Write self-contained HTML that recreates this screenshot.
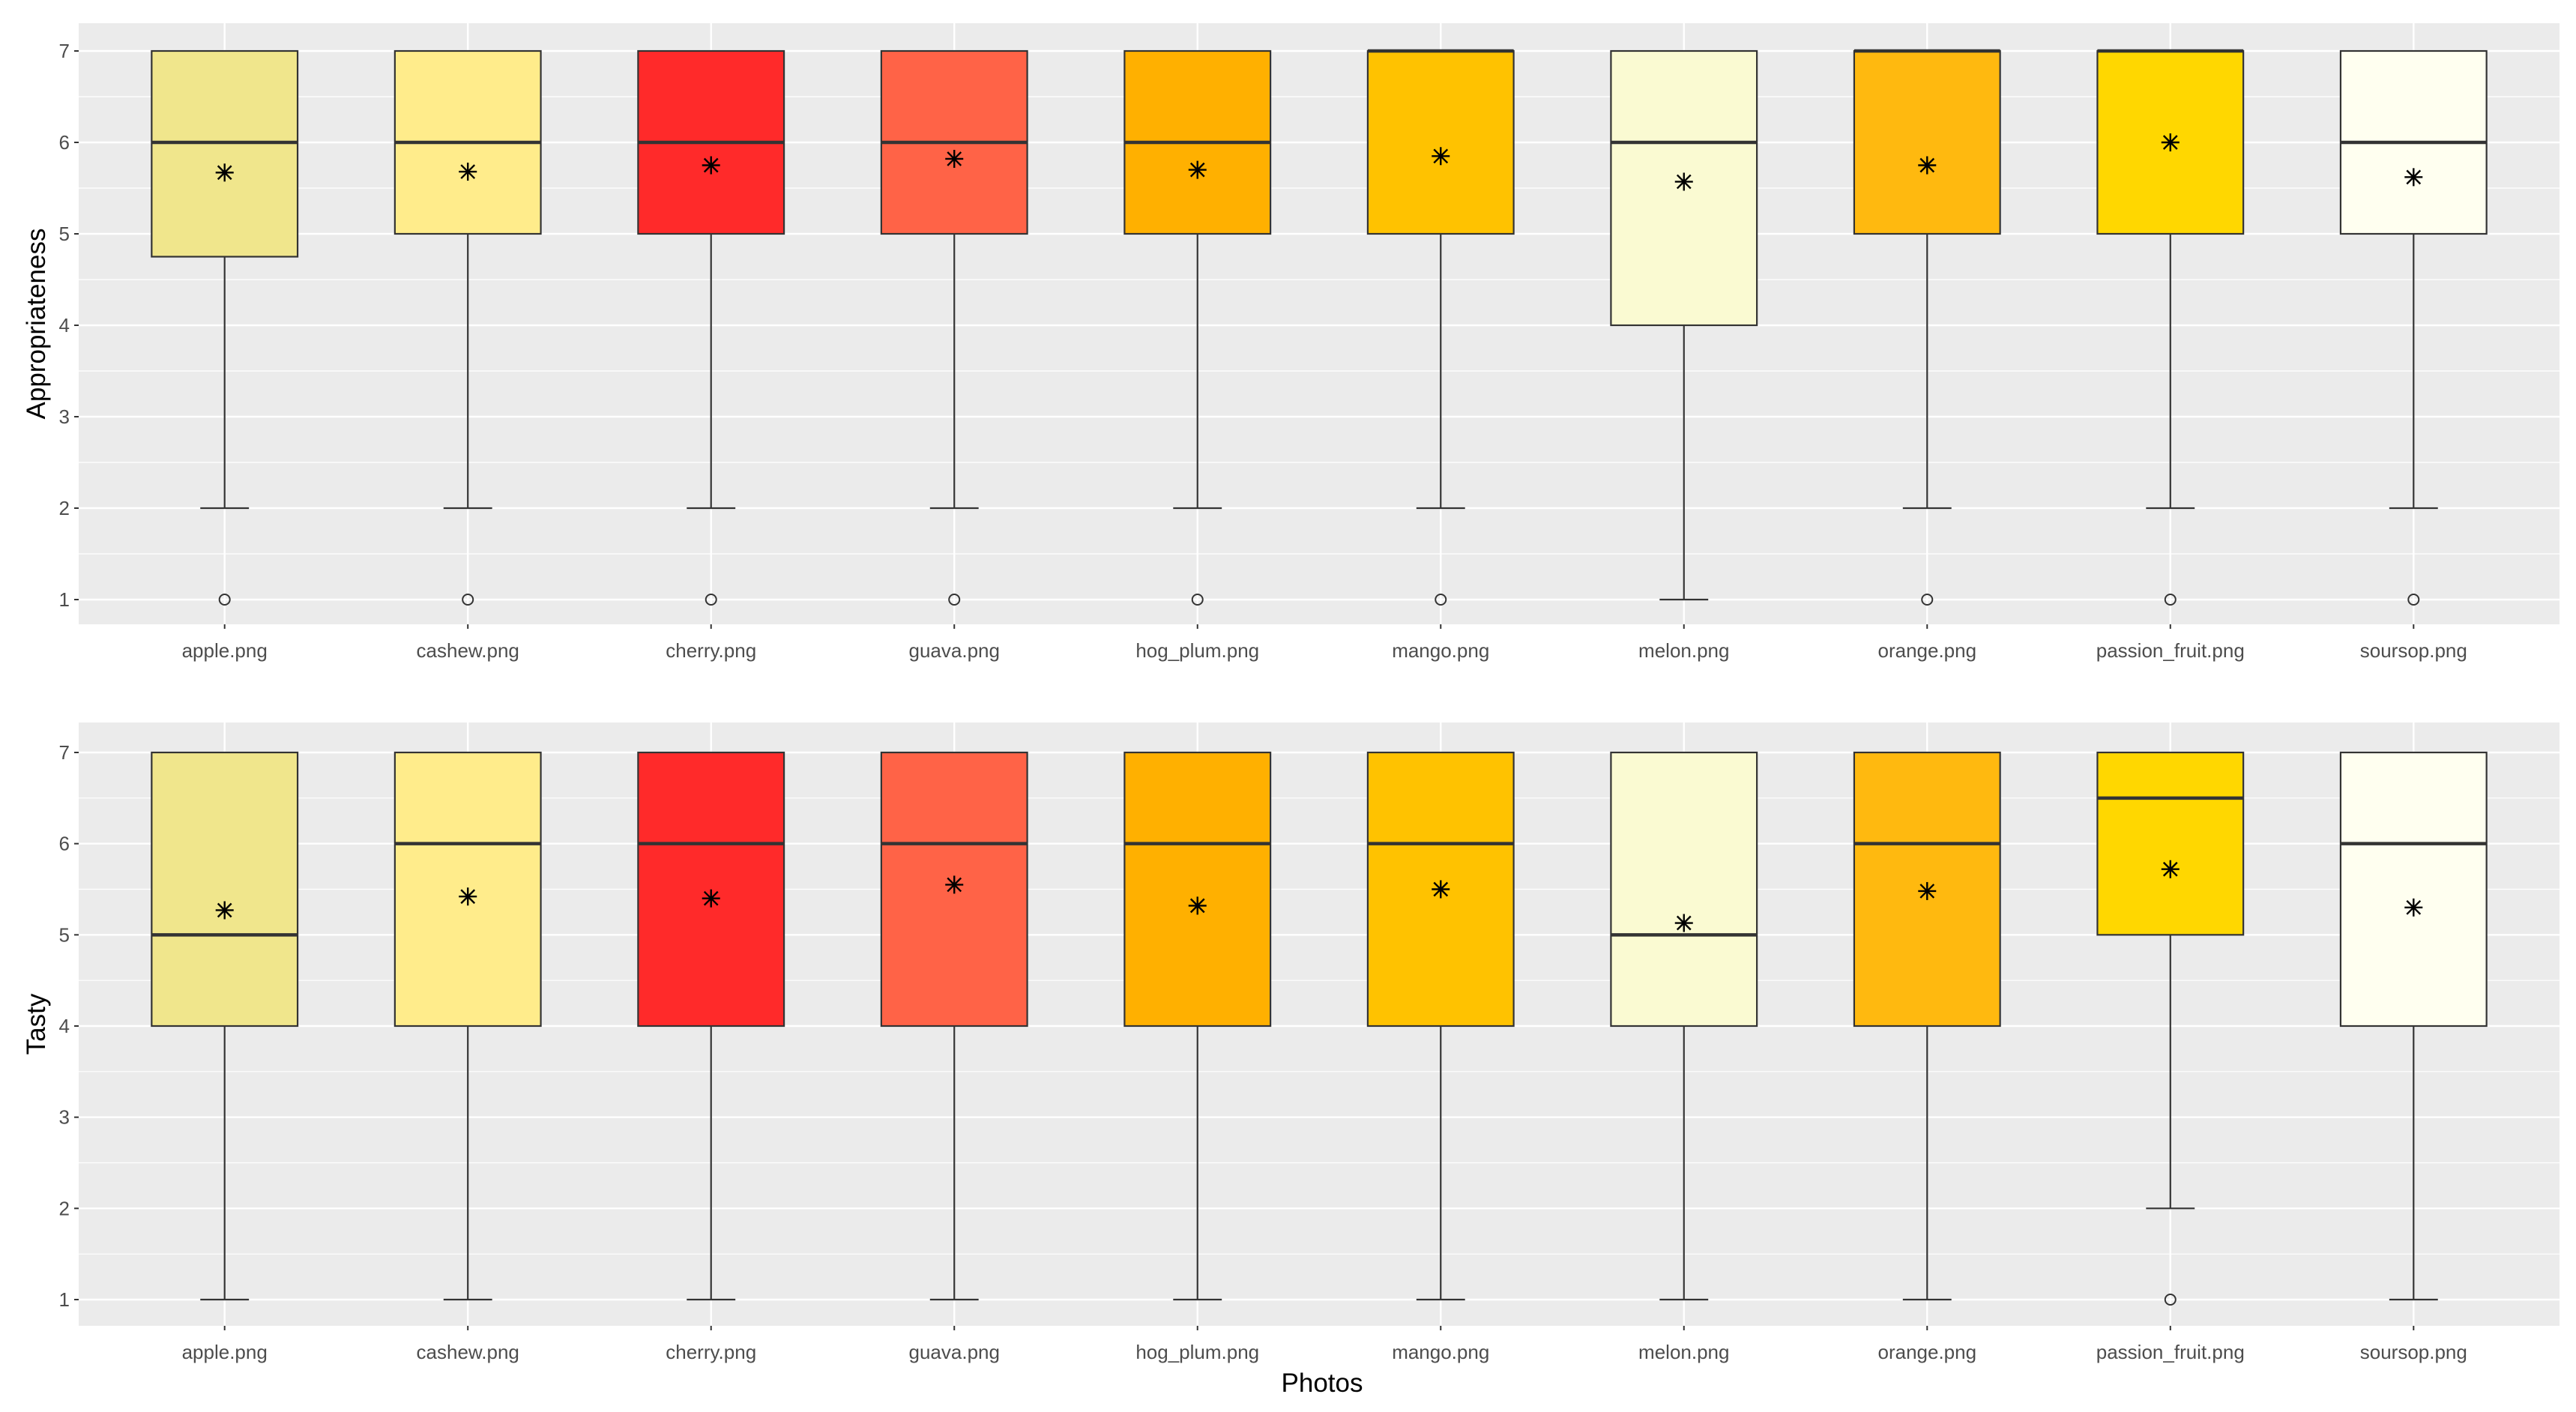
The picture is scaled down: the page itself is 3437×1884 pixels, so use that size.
<!DOCTYPE html>
<html><head><meta charset="utf-8"><style>
html,body{margin:0;padding:0;background:#fff}
svg{display:block}
text{font-family:"Liberation Sans",sans-serif}
</style></head><body>
<svg id="chart" width="3437" height="1884" viewBox="0 0 3437 1884" xmlns="http://www.w3.org/2000/svg"></svg>
<script>
const categories = ["apple.png","cashew.png","cherry.png","guava.png","hog_plum.png","mango.png","melon.png","orange.png","passion_fruit.png","soursop.png"];
const colors = ["#F0E68C","#FFEC8B","#FF2A2A","#FF6347","#FFB000","#FFC200","#FAFAD2","#FFB90F","#FFD700","#FFFFF0"];
// Appropriateness
const apLow = [2,2,2,2,2,2,1,2,2,2];
const apQ1 = [4.75,5,5,5,5,5,4,5,5,5];
const apMed = [6,6,6,6,6,7,6,7,7,6];
const apQ3 = [7,7,7,7,7,7,7,7,7,7];
const apHigh = [7,7,7,7,7,7,7,7,7,7];
const apMean = [5.67,5.68,5.75,5.82,5.70,5.85,5.57,5.75,6.0,5.62];
const apOut = [[1],[1],[1],[1],[1],[1],[],[1],[1],[1]];
// Tasty
const taLow = [1,1,1,1,1,1,1,1,2,1];
const taQ1 = [4,4,4,4,4,4,4,4,5,4];
const taMed = [5,6,6,6,6,6,5,6,6.5,6];
const taQ3 = [7,7,7,7,7,7,7,7,7,7];
const taHigh = [7,7,7,7,7,7,7,7,7,7];
const taMean = [5.27,5.42,5.40,5.55,5.32,5.50,5.13,5.48,5.72,5.30];
const taOut = [[],[],[],[],[],[],[],[],[1],[]];
const yTicks = [1,2,3,4,5,6,7];

const NS="http://www.w3.org/2000/svg";
const svg=document.getElementById('chart');
function mk(tag,attrs,parent){const e=document.createElementNS(NS,tag);for(const k in attrs)e.setAttribute(k,attrs[k]);(parent||svg).appendChild(e);return e;}

function panel(cfg){
  const g=mk('g',{});
  
  
  const L=105,R=3415,T=cfg.top,B=cfg.bottom;
  const y=v=>cfg.y1+(v-1)*(cfg.y7-cfg.y1)/6;
  const unit=(R-L)/(categories.length+0.2);
  const x=i=>L+unit*(i+0.6);
  const bg=mk('rect',{x:L,y:T,width:R-L,height:B-T,fill:'#EBEBEB'},g);
  
  
  for(let v=1.5;v<=7;v+=1) mk('line',{x1:L,x2:R,y1:y(v),y2:y(v),stroke:'#fff','stroke-width':1.2},g);
  yTicks.forEach(v=>{
    mk('line',{x1:L,x2:R,y1:y(v),y2:y(v),stroke:'#fff','stroke-width':2.4},g);
    mk('line',{x1:L-6,x2:L,y1:y(v),y2:y(v),stroke:'#333','stroke-width':2},g);
    const t=mk('text',{x:L-12,y:y(v)+9,'text-anchor':'end','font-size':26,fill:'#4D4D4D'},g);
    t.textContent=v;
    
    
  });
  categories.forEach((c,i)=>{
    mk('line',{x1:x(i),x2:x(i),y1:T,y2:B,stroke:'#fff','stroke-width':2.4},g);
    mk('line',{x1:x(i),x2:x(i),y1:B,y2:B+6,stroke:'#333','stroke-width':2},g);
    const t=mk('text',{x:x(i),y:B+44,'text-anchor':'middle','font-size':26,fill:'#4D4D4D'},g);
    t.textContent=c;
    
    
  });
  categories.forEach((c,i)=>{
    const bw=unit*0.6, cw=unit*0.2, cx=x(i);
    const bg2=mk('g',{},g);
    
    
    mk('line',{x1:cx,x2:cx,y1:y(cfg.low[i]),y2:y(cfg.q1[i]),stroke:'#333','stroke-width':2.2},bg2);
    mk('line',{x1:cx-cw/2,x2:cx+cw/2,y1:y(cfg.low[i]),y2:y(cfg.low[i]),stroke:'#333','stroke-width':2.2},bg2);
    mk('line',{x1:cx,x2:cx,y1:y(cfg.high[i]),y2:y(cfg.q3[i]),stroke:'#333','stroke-width':2.2},bg2);
    mk('rect',{x:cx-bw/2,y:y(cfg.q3[i]),width:bw,height:y(cfg.q1[i])-y(cfg.q3[i]),fill:colors[i],stroke:'#333','stroke-width':2.2},bg2);
    mk('line',{x1:cx-bw/2,x2:cx+bw/2,y1:y(cfg.med[i]),y2:y(cfg.med[i]),stroke:'#333','stroke-width':4.5},bg2);
    cfg.out[i].forEach(o=>{
      const p=mk('circle',{cx:cx,cy:y(o),r:7,fill:'none',stroke:'#333','stroke-width':2},bg2);
      
      
    });
    const my=y(cfg.mean[i]);
    const m=mk('g',{stroke:'#000','stroke-width':2.4},bg2);
    
    
    mk('line',{x1:cx-12,x2:cx+12,y1:my,y2:my},m);
    mk('line',{x1:cx,x2:cx,y1:my-12,y2:my+12},m);
    mk('line',{x1:cx-9,x2:cx+9,y1:my-9,y2:my+9},m);
    mk('line',{x1:cx-9,x2:cx+9,y1:my+9,y2:my-9},m);
  });
  const yt=mk('text',{x:0,y:0,'text-anchor':'middle','font-size':35,fill:'#000',transform:`translate(60,${(T+B)/2}) rotate(-90)`},g);
  yt.textContent=cfg.title;
  
  
}
panel({name:'appropriateness-panel',title:'Appropriateness',top:31,bottom:833,y7:68,y1:800,low:apLow,q1:apQ1,med:apMed,q3:apQ3,high:apHigh,mean:apMean,out:apOut});
panel({name:'tasty-panel',title:'Tasty',top:964,bottom:1769,y7:1004,y1:1734,low:taLow,q1:taQ1,med:taMed,q3:taQ3,high:taHigh,mean:taMean,out:taOut});
const xt=mk('text',{x:1764,y:1857,'text-anchor':'middle','font-size':35,fill:'#000'});
xt.textContent='Photos';


</script>
</body></html>
